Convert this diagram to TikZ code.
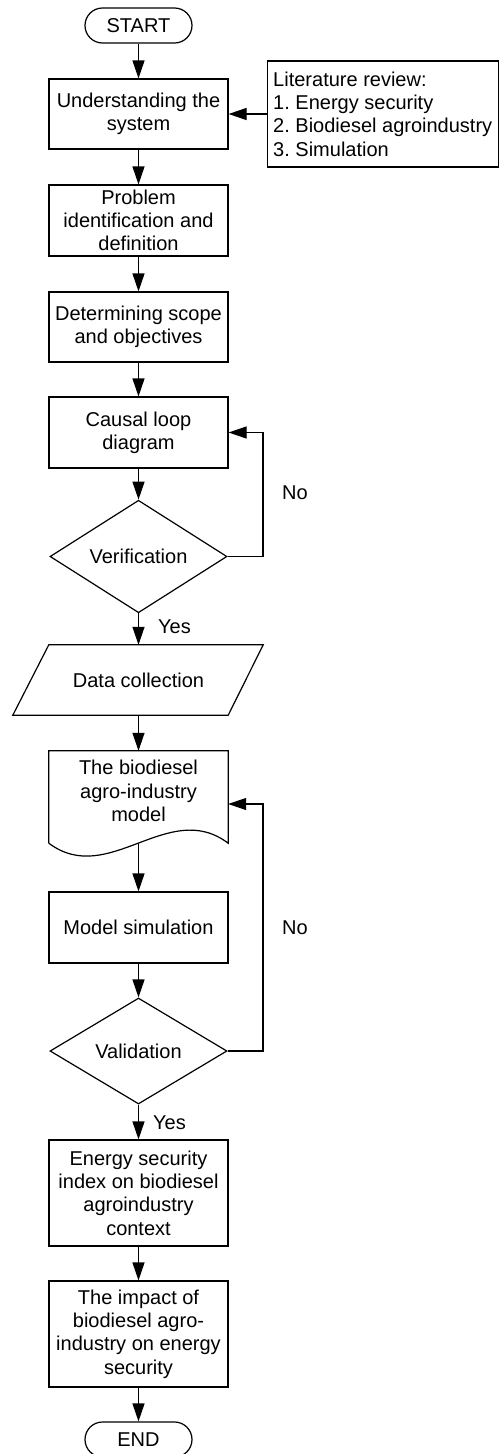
\documentclass[tikz,border=0pt]{standalone}
\usepackage{fontspec}
\setmainfont{Liberation Sans}
\usetikzlibrary{arrows.meta,shapes.geometric}
\frenchspacing
\begin{document}
\begin{tikzpicture}[x=1pt,y=-1pt,
  every node/.style={font=\fontsize{20}{23.3}\selectfont, inner sep=0pt},
  box/.style={draw, line width=1.2pt, rectangle, minimum width=179pt, align=center},
  term/.style={draw, line width=1.2pt, rectangle, rounded corners=17.5pt, minimum width=107pt, minimum height=35pt},
  dia/.style={draw, line width=1.2pt, diamond, minimum width=177pt, minimum height=105pt},
  ghost/.style={rectangle, minimum width=179pt},
  arr/.style={line width=1.2pt, -{Triangle[length=18pt,width=12pt]}},
  lbl/.style={anchor=west}
]
\useasboundingbox (0,0) rectangle (499,1454);

\node[term] (start) at (138.5,25.5) {START};
\node[box, minimum height=70pt] (b1) at (138.5,114) {Understanding the\\system};
\node[draw, line width=1.2pt, rectangle, minimum width=231pt, minimum height=106pt, align=left] (lit) at (382.75,114) {Literature review:\\1. Energy security\\2. Biodiesel agroindustry\\3. Simulation};
\node[box, minimum height=71pt] (b2) at (138.5,220.5) {Problem\\identification and\\definition};
\node[box, minimum height=70pt] (b3) at (138.5,327) {Determining scope\\and objectives};
\node[box, minimum height=71pt] (b4) at (138.5,432.5) {Causal loop\\diagram};
\node[dia] (ver) at (138.5,556.5) {Verification};

\node[ghost, minimum height=70pt] (data) at (138.5,680) {Data collection};
\draw[line width=1.2pt, line join=miter] (data.north west) -- ([xshift=35pt]data.north east) -- (data.south east) -- ([xshift=-36pt]data.south west) -- cycle;

\node[ghost, minimum height=92pt] (model) at (138.5,797) {};
\node[align=center] (modeltext) at (138.5,791) {The biodiesel\\agro-industry\\model};
\draw[line width=1.2pt] (model.south west) -- (model.north west) -- (model.north east) -- (model.south east)
  .. controls (168.3,798) and (108.7,888) .. (model.south west);

\node[box, minimum height=71pt] (sim) at (138.5,927.5) {Model simulation};
\node[dia, minimum height=106pt] (val) at (138.5,1051) {Validation};
\node[box, minimum height=106pt] (b5) at (138.5,1193) {Energy security\\index on biodiesel\\agroindustry\\context};
\node[box, minimum height=106pt] (b6) at (138.5,1334) {The impact of\\biodiesel agro-\\industry on energy\\security};
\node[term] (end) at (138.5,1439.5) {END};

\coordinate (l1) at (263,556.5);
\coordinate (l2) at (263,1051);

\draw[arr] (start) -- (b1);
\draw[arr] (lit) -- (b1);
\draw[arr] (b1) -- (b2);
\draw[arr] (b2) -- (b3);
\draw[arr] (b3) -- (b4);
\draw[arr] (b4) -- (ver);
\draw[arr] (ver.east) -- (l1) |- (b4.east);
\draw[arr] (ver.south) -- (data.north);
\draw[arr] (data.south) -- (model.north);
\draw[arr] (model.south) -- (sim.north);
\draw[arr] (sim) -- (val);
\draw[arr] (val.east) -- (l2) |- ([yshift=-7pt]model.east);
\draw[arr] (val.south) -- (b5.north);
\draw[arr] (b5) -- (b6);
\draw[arr] (b6) -- (end);

\node[lbl] (no1) at (282,493) {No};
\node[lbl] (yes1) at (158,627) {Yes};
\node[lbl] (no2) at (282,928) {No};
\node[lbl] (yes2) at (153,1123) {Yes};
\end{tikzpicture}
\end{document}
